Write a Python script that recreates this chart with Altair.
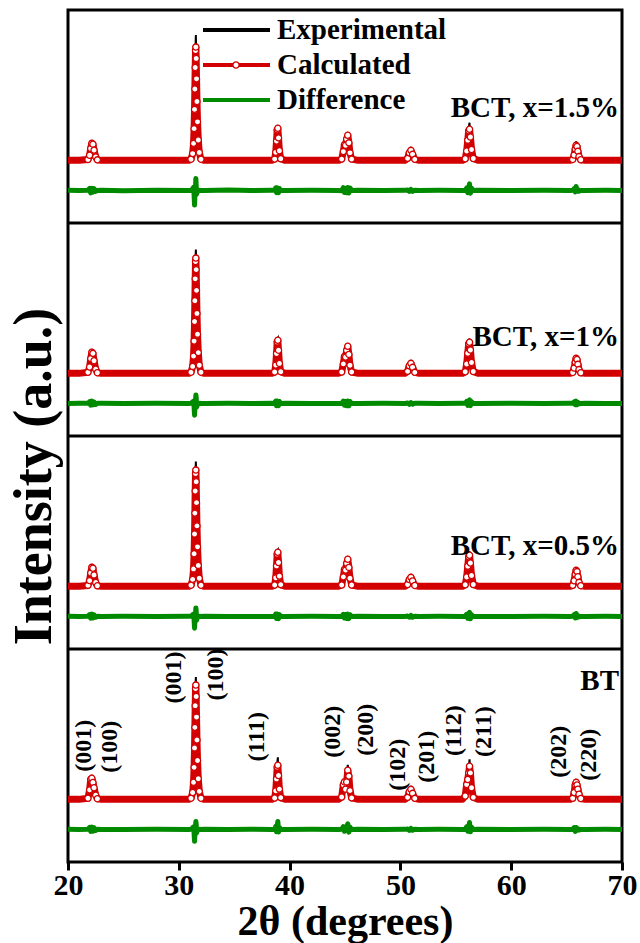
import altair as alt
import pandas as pd

# 2θ sampling points (degrees), shared by all four patterns
two_theta = [
    20.0, 21.0,
    21.80, 21.95, 22.05, 22.15, 22.25, 22.35, 22.50, 22.65,
    23.0, 25.0, 28.0, 30.9,
    31.10, 31.25, 31.33, 31.38, 31.42, 31.45, 31.48, 31.51,
    31.54, 31.57, 31.60, 31.64, 31.69, 31.76, 31.85, 32.00,
    32.3, 34.5, 36.5, 38.4,
    38.65, 38.75, 38.82, 38.88, 38.94, 39.00, 39.08, 39.20,
    39.6, 42.0, 44.4,
    44.70, 44.85, 44.95, 45.05, 45.15, 45.25, 45.35, 45.45, 45.60,
    46.2, 48.5, 50.4,
    50.65, 50.80, 50.95, 51.10, 51.30,
    51.7, 53.5, 55.6,
    55.85, 55.98, 56.08, 56.16, 56.24, 56.32, 56.42, 56.58,
    57.0, 60.0, 63.0, 65.3,
    65.55, 65.68, 65.78, 65.86, 65.94, 66.02, 66.12, 66.28,
    66.7, 68.5, 70.0,
]

samples = ["BCT, x=1.5%", "BCT, x=1%", "BCT, x=0.5%", "BT"]

# ---- BCT, x=1.5% ----
obs_15 = [
    310, 295,
    340, 580, 680, 1060, 880, 780, 400, 318,
    305, 290, 310, 296,
    345, 640, 1100, 1400, 1750, 2900, 3950, 4850,
    5300, 4600, 3400, 2550, 1780, 1100, 620, 340,
    300, 312, 292, 305,
    360, 720, 980, 1620, 1640, 1100, 760, 360,
    298, 308, 296,
    340, 760, 840, 980, 1060, 1420, 900, 700, 345,
    305, 295, 302,
    400, 560, 740, 500, 350,
    298, 306, 300,
    360, 760, 1020, 1600, 1800, 1120, 820, 370,
    304, 296, 302, 298,
    340, 580, 690, 1060, 820, 700, 420, 322,
    300, 305, 298,
]
calc_15 = [
    300, 300,
    334, 504, 776, 980, 946, 708, 436, 320,
    300, 300, 300, 300,
    345, 571, 978, 1566, 2334, 3148, 4006, 4684,
    4820, 4368, 3554, 2650, 1837, 1114, 616, 345,
    300, 300, 300, 300,
    351, 620, 1068, 1516, 1580, 1196, 684, 364,
    300, 300, 300,
    350, 650, 920, 900, 1150, 1300, 1000, 600, 350,
    300, 300, 300,
    380, 600, 700, 540, 340,
    300, 300, 300,
    362, 672, 1106, 1478, 1540, 1230, 734, 374,
    300, 300, 300, 300,
    336, 510, 750, 900, 852, 660, 450, 324,
    300, 300, 300,
]

# ---- BCT, x=1% ----
obs_10 = [
    295, 308,
    345, 620, 820, 1230, 1040, 860, 430, 330,
    302, 296, 306, 298,
    350, 640, 1080, 1450, 1900, 2980, 4000, 4880,
    5240, 4680, 3460, 2600, 1810, 1110, 630, 342,
    296, 304, 300, 307,
    350, 720, 1000, 1650, 1700, 1130, 770, 362,
    303, 297, 301,
    350, 770, 900, 1030, 1130, 1480, 960, 700, 348,
    299, 306, 294,
    395, 565, 735, 505, 345,
    302, 297, 305,
    365, 750, 1030, 1580, 1680, 1140, 800, 370,
    297, 303, 299, 304,
    338, 570, 700, 990, 800, 700, 430, 322,
    302, 296, 300,
]
calc_10 = [
    300, 300,
    342, 552, 888, 1140, 1098, 804, 468, 325,
    300, 300, 300, 300,
    346, 576, 990, 1588, 2370, 3198, 4072, 4762,
    4900, 4440, 3612, 2692, 1864, 1128, 622, 346,
    300, 300, 300, 300,
    353, 630, 1092, 1554, 1620, 1224, 696, 366,
    300, 300, 300,
    354, 678, 970, 948, 1218, 1380, 1056, 624, 354,
    300, 300, 300,
    380, 600, 700, 540, 340,
    300, 300, 300,
    362, 672, 1106, 1478, 1540, 1230, 734, 374,
    300, 300, 300, 300,
    336, 510, 750, 900, 852, 660, 450, 324,
    300, 300, 300,
]

# ---- BCT, x=0.5% ----
obs_05 = [
    304, 297,
    342, 600, 760, 1150, 960, 820, 420, 326,
    298, 305, 293, 302,
    348, 650, 1090, 1460, 1920, 3000, 4040, 4930,
    5280, 4700, 3480, 2620, 1830, 1120, 630, 344,
    305, 297, 301, 296,
    356, 730, 1030, 1690, 1740, 1160, 780, 365,
    300, 306, 296,
    352, 760, 905, 1025, 1140, 1470, 970, 690, 350,
    303, 297, 301,
    385, 540, 700, 480, 340,
    296, 304, 300,
    366, 755, 1035, 1585, 1700, 1135, 805, 371,
    301, 298, 305, 297,
    340, 590, 720, 1060, 840, 720, 440, 324,
    298, 303, 300,
]
calc_05 = [
    300, 300,
    338, 528, 832, 1060, 1022, 756, 452, 323,
    300, 300, 300, 300,
    346, 578, 996, 1599, 2388, 3223, 4105, 4801,
    4940, 4476, 3641, 2713, 1878, 1135, 625, 346,
    300, 300, 300, 300,
    354, 640, 1116, 1592, 1660, 1252, 708, 368,
    300, 300, 300,
    354, 678, 970, 948, 1218, 1380, 1056, 624, 354,
    300, 300, 300,
    372, 570, 660, 516, 336,
    300, 300, 300,
    362, 672, 1106, 1478, 1540, 1230, 734, 374,
    300, 300, 300, 300,
    338, 524, 780, 940, 889, 684, 460, 326,
    300, 300, 300,
]

# ---- BT ----
obs_bt = [
    306, 296,
    348, 760, 1020, 1230, 900, 830, 430, 330,
    300, 294, 308, 299,
    350, 640, 1080, 1440, 1880, 2960, 3980, 4850,
    5180, 4620, 3440, 2580, 1800, 1105, 625, 342,
    303, 298, 306, 300,
    360, 760, 1020, 1720, 1980, 1150, 790, 364,
    298, 304, 300,
    400, 990, 920, 800, 1090, 1680, 1120, 740, 352,
    305, 296, 302,
    400, 565, 740, 505, 344,
    299, 303, 297,
    440, 1000, 1020, 1450, 1900, 1260, 850, 375,
    302, 297, 304, 299,
    345, 640, 800, 1060, 840, 740, 480, 332,
    300, 305, 298,
]
calc_bt = [
    300, 300,
    342, 678, 1098, 1140, 972, 762, 468, 325,
    300, 300, 300, 300,
    346, 574, 984, 1577, 2352, 3173, 4039, 4723,
    4860, 4404, 3583, 2671, 1850, 1121, 619, 346,
    300, 300, 300, 300,
    354, 640, 1116, 1592, 1660, 1252, 708, 368,
    300, 300, 300,
    393, 880, 996, 706, 996, 1460, 1228, 648, 358,
    300, 300, 300,
    380, 600, 700, 540, 340,
    300, 300, 300,
    432, 894, 1092, 1356, 1620, 1356, 762, 379,
    300, 300, 300, 300,
    341, 572, 878, 980, 878, 708, 504, 334,
    300, 300, 300,
]

obs_sets = [obs_15, obs_10, obs_05, obs_bt]
calc_sets = [calc_15, calc_10, calc_05, calc_bt]

# height (counts, within each panel) of the sample name
panel_label_level = [2400, 1760, 1900, 5040]

# Miller indices of the BT reflections and where their labels sit
hkl_labels = ["(001)", "(100)", "(001)", "(100)", "(111)", "(002)", "(200)",
              "(102)", "(201)", "(112)", "(211)", "(202)", "(220)"]
hkl_two_theta = [21.4, 23.8, 29.6, 33.4, 37.1, 43.9, 46.9,
                 49.8, 52.4, 54.8, 57.5, 64.3, 67.0]
hkl_level = [2440, 2400, 5160, 5280, 2800, 3000, 3080,
             1680, 2000, 3040, 3000, 2200, 2080]

tick_values = [20, 30, 40, 50, 60, 70]

legend_labels = ["Experimental", "Calculated", "Difference"]

BLACK = "#000000"
RED = "#d20000"
GREEN = "#008a00"
FONT = "Liberation Serif"

WIDTH, HEIGHT = 554, 852
PANEL_SPAN = 8500      # counts per stacked panel
PANEL_FLOOR = -2200    # lowest count shown in each panel
DIFF_BASE = -900       # where the difference curve is drawn in each panel

n_panels = len(samples)


def lift(k):
    return (n_panels - 1 - k) * PANEL_SPAN - PANEL_FLOOR


obs_rows, calc_rows, diff_rows = [], [], []
for k, (name, obs, calc) in enumerate(zip(samples, obs_sets, calc_sets)):
    up = lift(k)
    for t, o, c in zip(two_theta, obs, calc):
        obs_rows.append({"sample": name, "two_theta": t, "intensity": o + up})
        calc_rows.append({"sample": name, "two_theta": t, "intensity": c + up,
                          "peak": c > 310})
        diff_rows.append({"sample": name, "two_theta": t,
                          "intensity": o - c + DIFF_BASE + up})

obs_df = pd.DataFrame(obs_rows)
calc_df = pd.DataFrame(calc_rows)
diff_df = pd.DataFrame(diff_rows)
circle_df = calc_df[calc_df["peak"]].drop(columns="peak")

label_df = pd.DataFrame({
    "sample": samples,
    "intensity": [lv + lift(k) for k, lv in enumerate(panel_label_level)],
})
hkl_df = pd.DataFrame({
    "hkl": hkl_labels,
    "two_theta": hkl_two_theta,
    "intensity": [lv + lift(n_panels - 1) for lv in hkl_level],
})
sep_df = pd.DataFrame({"intensity": [k * PANEL_SPAN for k in range(1, n_panels)]})

x_enc = alt.X(
    "two_theta:Q",
    title="2θ (degrees)",
    scale=alt.Scale(domain=[20, 70], nice=False, zero=False),
    axis=alt.Axis(
        values=tick_values, format="d", domain=False, grid=False,
        tickSize=8, tickWidth=3, tickColor=BLACK,
        labelFont=FONT, labelFontSize=30, labelFontWeight="bold",
        labelColor=BLACK, labelPadding=0, labelFlush=False, labelOverlap=False,
        titleFont=FONT, titleFontSize=42, titleFontWeight="bold",
        titleColor=BLACK, titleBaseline="alphabetic", titleY=72,
    ),
)
y_enc = alt.Y(
    "intensity:Q",
    title="Intensity (a.u.)",
    scale=alt.Scale(domain=[0, n_panels * PANEL_SPAN], nice=False, zero=False),
    axis=alt.Axis(
        labels=False, ticks=False, domain=False, grid=False,
        titleFont=FONT, titleFontSize=54, titleFontWeight="bold",
        titleColor=BLACK, titleAngle=270, titleAlign="center",
        titleBaseline="middle", titleX=-34, titleY=466,
    ),
)

obs_line = alt.Chart(obs_df).mark_line(color=BLACK, strokeWidth=2).encode(
    x=x_enc, y=y_enc, detail="sample:N")
calc_line = alt.Chart(calc_df).mark_line(
    color=RED, strokeWidth=7, strokeJoin="round").encode(
    x=x_enc, y=y_enc, detail="sample:N")
calc_points = alt.Chart(circle_df).mark_point(
    shape="circle", size=38, filled=True, fill="white", stroke=RED,
    strokeWidth=1.3, opacity=1).encode(x=x_enc, y=y_enc)
diff_line = alt.Chart(diff_df).mark_line(
    color=GREEN, strokeWidth=5, strokeJoin="round").encode(
    x=x_enc, y=y_enc, detail="sample:N")

separators = alt.Chart(sep_df).mark_rule(color=BLACK, strokeWidth=3).encode(
    y=y_enc, x=alt.value(0), x2=alt.value(WIDTH))

panel_names = alt.Chart(label_df).mark_text(
    align="right", baseline="middle", font=FONT, fontSize=29,
    fontWeight="bold", color=BLACK).encode(
    x=alt.value(WIDTH - 3), y=y_enc, text="sample:N")

hkl_text = alt.Chart(hkl_df).mark_text(
    angle=270, align="center", baseline="middle", font=FONT, fontSize=24,
    fontWeight="bold", color=BLACK).encode(
    x=x_enc, y=y_enc, text="hkl:N")

# legend drawn in the top panel
legend_colors = [BLACK, RED, GREEN]
legend_layers = []
for i, (lab, col) in enumerate(zip(legend_labels, legend_colors)):
    row_y = 20 + 35 * i
    one = pd.DataFrame({"label": [lab]})
    legend_layers.append(
        alt.Chart(one).mark_rule(color=col, strokeWidth=4).encode(
            x=alt.value(135), x2=alt.value(202), y=alt.value(row_y)))
    if lab == "Calculated":
        legend_layers.append(
            alt.Chart(one).mark_point(
                shape="circle", size=38, filled=True, fill="white",
                stroke=RED, strokeWidth=1.3, opacity=1).encode(
                x=alt.value(168), y=alt.value(row_y)))
    legend_layers.append(
        alt.Chart(one).mark_text(
            align="left", baseline="middle", font=FONT, fontSize=29,
            fontWeight="bold", color=BLACK).encode(
            x=alt.value(209), y=alt.value(row_y), text="label:N"))

chart = alt.layer(
    obs_line, calc_line, calc_points, diff_line, separators,
    panel_names, hkl_text, *legend_layers,
).properties(
    width=WIDTH,
    height=HEIGHT,
    padding={"left": 68, "top": 10, "right": 18, "bottom": 81},
    autosize=alt.AutoSizeParams(type="none"),
    background="white",
).configure_view(stroke=BLACK, strokeWidth=3)

chart.save("out.html", embed_options={"renderer": "svg", "actions": False})
